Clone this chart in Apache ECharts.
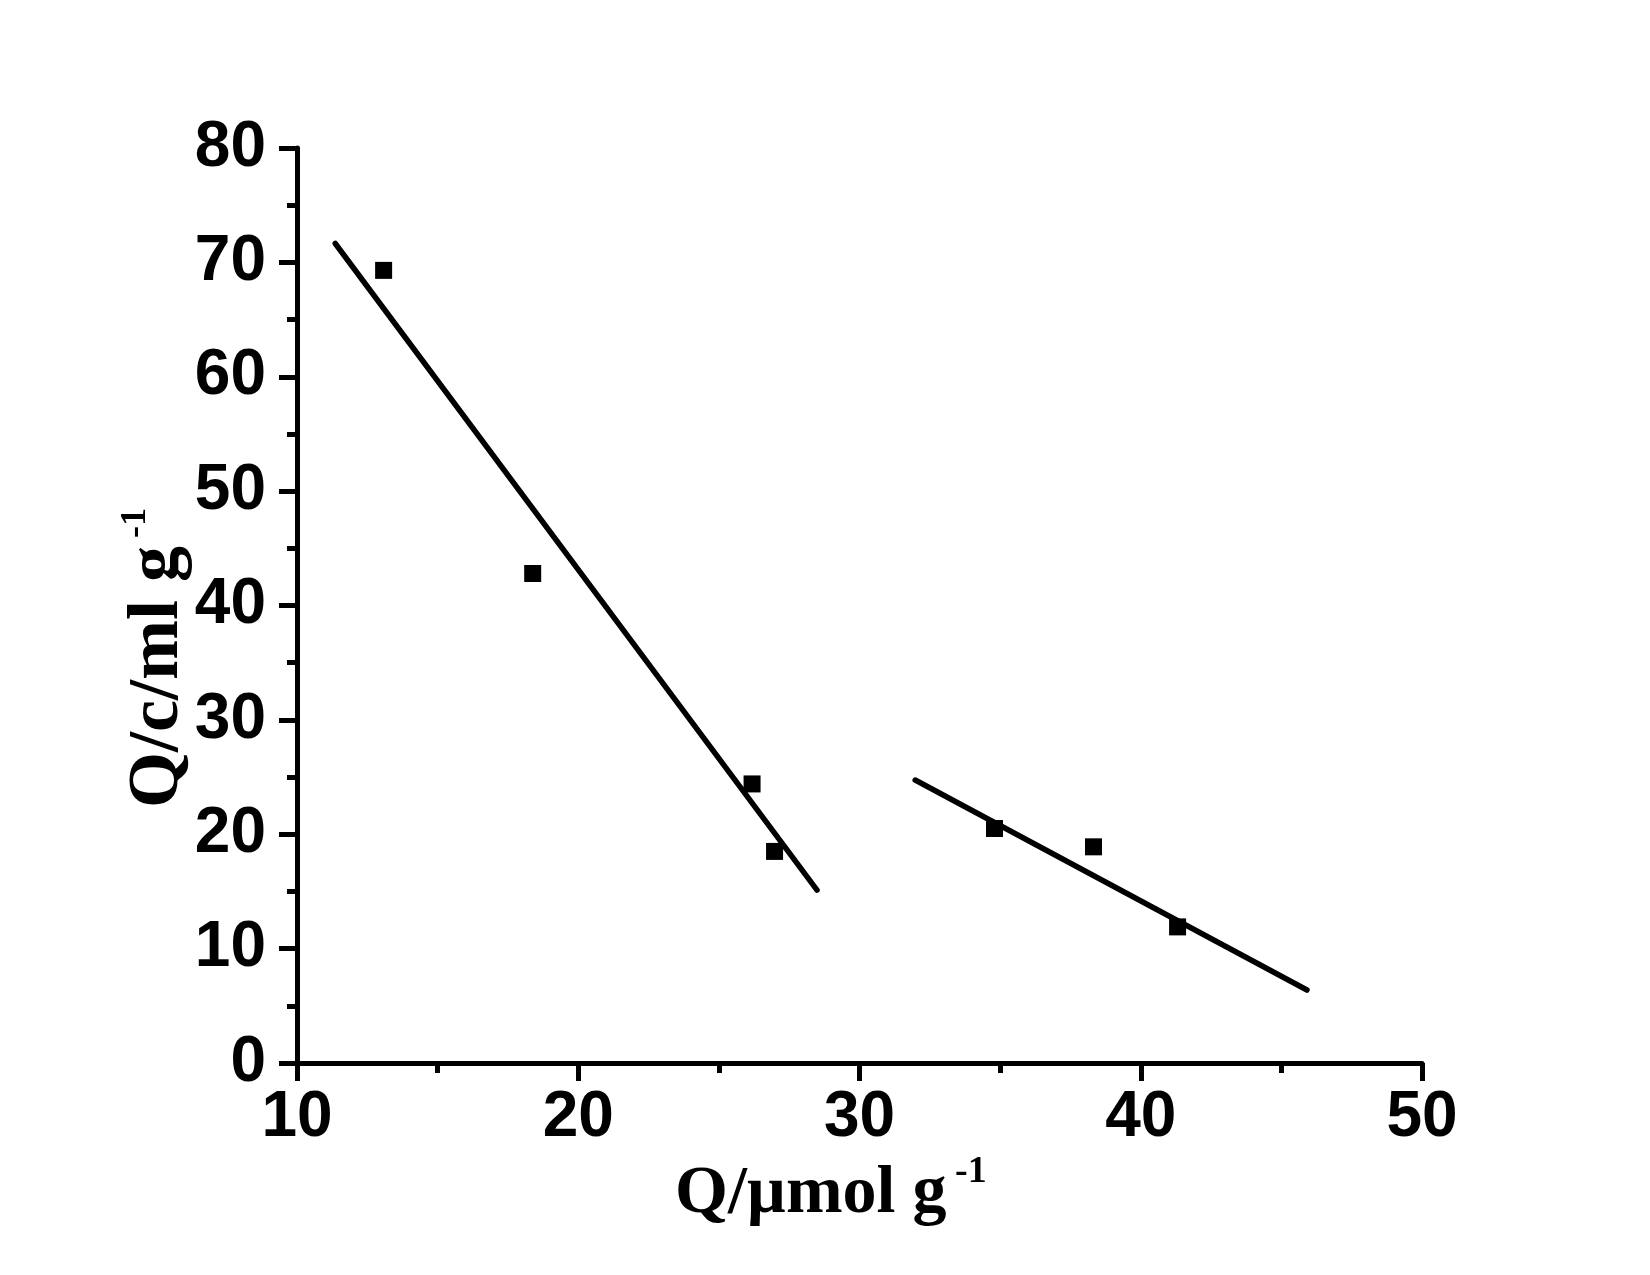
<!DOCTYPE html>
<html>
<head>
<meta charset="utf-8">
<script src="https://cdn.jsdelivr.net/npm/echarts@6/dist/echarts.min.js"></script>
<style>
html,body{margin:0;padding:0;background:#fff;}
#chart{width:1650px;height:1275px;}
</style>
</head>
<body>
<div id="chart"></div>
<script>
// Data
var points = [[13.08,69.3],[18.38,42.8],[26.18,24.4],[26.98,18.5],[34.80,20.5],[38.32,18.9],[41.31,11.9]];
var fitLine1 = [[11.36,71.65],[28.49,15.12]];
var fitLine2 = [[31.98,24.74],[45.91,6.38]];
var xTicks = {min:10, max:50, interval:10};
var yTicks = {min:0, max:80, interval:10};
var xTitle = 'Q/\u00b5mol g';
var yTitle = 'Q/c/ml g';
var supText = '-1';

var chart = echarts.init(document.getElementById('chart'), null, {renderer:'canvas'});
var labelFont = {fontFamily:'Liberation Sans', fontWeight:'bold', fontSize:64, color:'#000'};
var axisLine = {show:true, onZero:false, lineStyle:{color:'#000', width:5}};
var option = {
  animation:false,
  backgroundColor:'#fff',
  grid:{left:297, top:148, width:1125, height:915, containLabel:false},
  xAxis:{
    type:'value', min:xTicks.min, max:xTicks.max, interval:xTicks.interval,
    axisLine:axisLine,
    axisTick:{show:true, inside:false, length:18, lineStyle:{color:'#000', width:5}},
    minorTick:{show:true, splitNumber:2, length:10, lineStyle:{color:'#000', width:5}},
    splitLine:{show:false},
    axisLabel:Object.assign({margin:23}, labelFont)
  },
  yAxis:{
    type:'value', min:yTicks.min, max:yTicks.max, interval:yTicks.interval,
    axisLine:axisLine,
    axisTick:{show:true, inside:false, length:18, lineStyle:{color:'#000', width:5}},
    minorTick:{show:true, splitNumber:2, length:10, lineStyle:{color:'#000', width:5}},
    splitLine:{show:false},
    axisLabel:Object.assign({margin:31}, labelFont)
  },
  series:[
    {type:'line', data:fitLine1, symbol:'none', lineStyle:{color:'#000', width:5.5, cap:'round'}},
    {type:'line', data:fitLine2, symbol:'none', lineStyle:{color:'#000', width:5.5, cap:'round'}},
    {type:'scatter', data:points, symbol:'rect', symbolSize:17, itemStyle:{color:'#000', opacity:1}}
  ],
  graphic:[
    {type:'text', x:675, y:1194, style:{text:xTitle, font:'bold 68px "Liberation Serif"', fill:'#000', align:'left', verticalAlign:'middle'}},
    {type:'text', x:955, y:1172, style:{text:supText, font:'bold 38px "Liberation Serif"', fill:'#000', align:'left', verticalAlign:'middle'}},
    {type:'text', x:158, y:808, rotation:Math.PI/2, style:{text:yTitle, font:'bold 72px "Liberation Serif"', fill:'#000', align:'left', verticalAlign:'middle'}},
    {type:'text', x:136, y:538, rotation:Math.PI/2, style:{text:supText, font:'bold 36px "Liberation Serif"', fill:'#000', align:'left', verticalAlign:'middle'}}
  ]
};
chart.setOption(option);
</script>
</body>
</html>
